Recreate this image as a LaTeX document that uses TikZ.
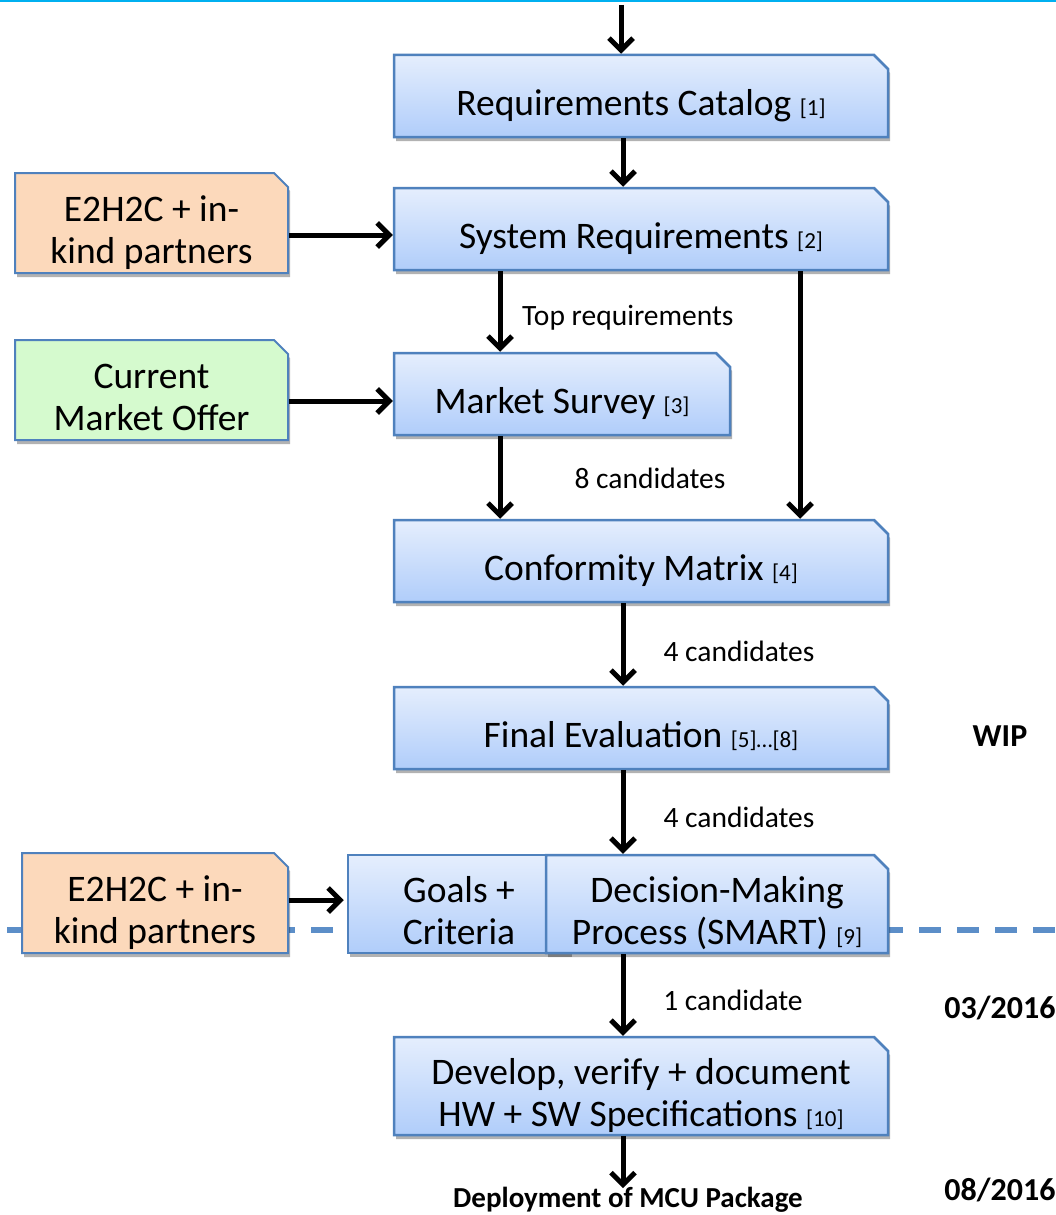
\documentclass[tikz,border=0pt]{standalone}
\usepackage{fontspec}
\setmainfont{Carlito}
\usetikzlibrary{arrows.meta,shapes.misc,shadows}

\definecolor{edgeblue}{RGB}{79,129,189}
\definecolor{dashblue}{RGB}{92,142,200}
\definecolor{boxtop}{RGB}{229,238,253}
\definecolor{boxbot}{RGB}{176,205,250}
\definecolor{partnerfill}{RGB}{252,217,187}
\definecolor{offerfill}{RGB}{213,250,206}
\definecolor{topline}{RGB}{0,176,240}

\newcommand{\boxtxt}{\fontsize{37.5}{42}\selectfont}
\newcommand{\reftxt}[1]{{\fontsize{23}{26}\selectfont #1}}

\tikzset{
    boxshadow/.style={drop shadow={shadow xshift=2pt,shadow yshift=-4pt,opacity=.3,fill=black}},
    oneline/.style={text height=38pt, text depth=0pt},
    twoline/.style={text height=80pt, text depth=0pt},
    stepbox/.style={chamfered rectangle, chamfered rectangle corners=north east,
        chamfered rectangle xsep=7pt, chamfered rectangle ysep=7pt,
        draw=edgeblue, line width=2.5pt, top color=boxtop, bottom color=boxbot,
        minimum width=494pt, minimum height=82pt, inner sep=0pt,
        align=center, font=\boxtxt, boxshadow},
    goalbox/.style={rectangle, draw=edgeblue, line width=2.5pt,
        top color=boxtop, bottom color=boxbot,
        minimum width=222pt, minimum height=98pt, inner sep=0pt,
        align=center, font=\boxtxt, boxshadow},
    inputbox/.style={chamfered rectangle, chamfered rectangle corners=north east,
        chamfered rectangle xsep=7pt, chamfered rectangle ysep=7pt,
        draw=edgeblue, line width=2pt, minimum width=273pt, minimum height=100pt,
        inner sep=0pt, align=center, font=\boxtxt, boxshadow, twoline},
    notetxt/.style={font=\fontsize{29.5}{34}\selectfont, inner sep=0pt},
    datetxt/.style={font=\bfseries\fontsize{32}{36}\selectfont, inner sep=0pt},
    flow/.style={line width=5pt, -{Straight Barb[length=12pt,width=24pt]}}
}

\begin{document}
\begin{tikzpicture}[x=1pt,y=-1pt]
    \useasboundingbox (0,0) rectangle (1056,1215);

    % top rule and milestone line
    \draw[topline, line width=3pt] (0,1) -- (1056,1);
    \draw[dashblue, line width=6pt, dash pattern=on 22pt off 16pt, dash phase=31pt]
        (0,930) -- (1056,930);

    % main chain
    \node[stepbox, oneline] (cat) at (641,96) {Requirements Catalog \reftxt{[1]}};
    \node[stepbox, oneline] (sysreq) at (641,229) {System Requirements \reftxt{[2]}};
    \node[stepbox, oneline, minimum width=336pt] (survey) at (562,394) {Market Survey \reftxt{[3]}};
    \node[stepbox, oneline] (matrix) at (641,561) {Conformity Matrix \reftxt{[4]}};
    \node[stepbox, oneline] (final) at (641,728) {Final Evaluation \reftxt{[5]\ldots[8]}};
    \node[goalbox, twoline] (goals) at (459,904) {Goals +\\Criteria};
    \node[stepbox, twoline, minimum width=342pt, minimum height=98pt] (smart) at (717,904)
        {Decision-Making\\Process (SMART) \reftxt{[9]}};
    \node[stepbox, twoline, minimum height=98pt] (spec) at (641,1086)
        {Develop, verify + document\\HW + SW Specifications \reftxt{[10]}};

    % inputs
    \node[inputbox, fill=partnerfill] (partnersA) at (151.5,223) {E2H2C + in-\\kind partners};
    \node[inputbox, fill=offerfill] (offer) at (151.5,390) {Current\\Market Offer};
    \node[inputbox, fill=partnerfill, minimum width=266pt] (partnersB) at (155,903)
        {E2H2C + in-\\kind partners};

    % labels
    \node[notetxt, anchor=west] (toplbl) at (522,318) {Top requirements};
    \node[notetxt] (lbl8) at (650,478) {8 candidates};
    \node[notetxt] (lbl4a) at (739,651) {4 candidates};
    \node[notetxt] (lbl4b) at (739,817) {4 candidates};
    \node[notetxt] (lbl1) at (733,1000) {1 candidate};
    \node[datetxt] (wip) at (1000,736) {WIP};
    \node[datetxt] (mar) at (1000,1008) {03/2016};
    \node[datetxt] (aug) at (1000,1190) {08/2016};
    \node[font=\bfseries\fontsize{29}{32}\selectfont, inner sep=0pt] (deploy) at (628,1200)
        {Deployment of MCU Package};

    \coordinate (entry) at (621,5);

    % arrows
    \draw[flow] (entry) -- ([xshift=-20pt]cat.north);
    \draw[flow] ([xshift=-18pt]cat.south) -- ([xshift=-18pt]sysreq.north);
    \draw[flow] ([yshift=-12pt]partnersA.east) -- ([yshift=-6pt]sysreq.west);
    \draw[flow] ([xshift=-141pt]sysreq.south) -- ([xshift=-62pt]survey.north);
    \draw[flow] ([xshift=159pt]sysreq.south) -- ([xshift=159pt]matrix.north);
    \draw[flow] ([yshift=-11pt]offer.east) -- ([yshift=-7pt]survey.west);
    \draw[flow] ([xshift=-62pt]survey.south) -- ([xshift=-141pt]matrix.north);
    \draw[flow] ([xshift=-18pt]matrix.south) -- ([xshift=-18pt]final.north);
    \draw[flow] ([xshift=-18pt]final.south) -- ([xshift=-94pt]smart.north);
    \draw[flow, shorten >=3pt] ([yshift=3pt]partnersB.east) -- ([yshift=4pt]goals.west);
    \draw[flow] ([xshift=-94pt]smart.south) -- ([xshift=-18pt]spec.north);
    \draw[flow] ([xshift=-18pt]spec.south) -- ([xshift=-18pt,yshift=-1pt]spec.south |- deploy.north);

\end{tikzpicture}
\end{document}
